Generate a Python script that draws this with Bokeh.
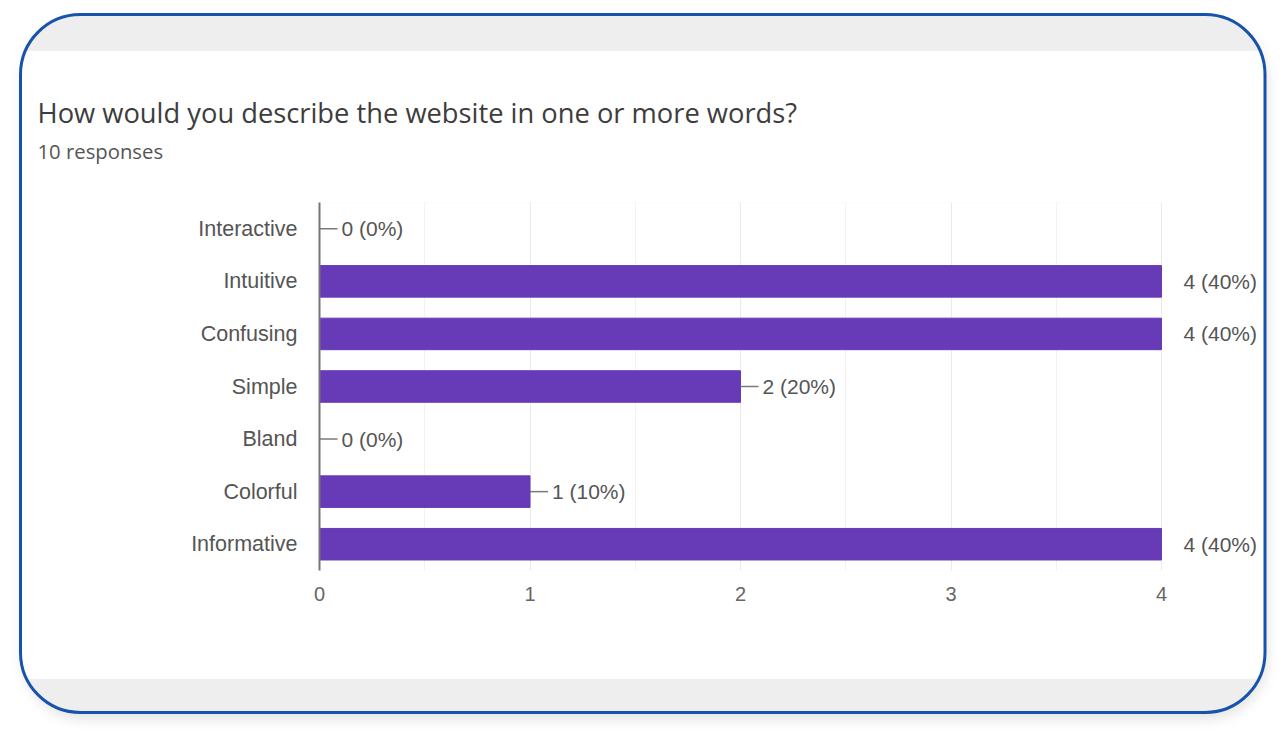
from urllib.parse import quote
from bokeh.plotting import figure
from bokeh.models import (ColumnDataSource, FactorRange, Range1d, FixedTicker,
                          BoxAnnotation, LabelSet, Title, CDSView, BooleanFilter)
from bokeh.core.properties import value
from bokeh.embed import file_html
from bokeh.resources import INLINE

title_text = "How would you describe the website in one or more words?"
subtitle_text = "10 responses"
total_responses = 10
categories = ["Interactive", "Intuitive", "Confusing", "Simple", "Bland", "Colorful", "Informative"]
counts = [0, 4, 4, 2, 0, 1, 4]
x_ticks = [0, 1, 2, 3, 4]
x_minor = [0.5, 1.5, 2.5, 3.5]

W, H = 1286, 740
FL, FR4, FR, FT, FB = 319, 1161, 1272, 202, 570
x_max = 4
px_per_unit = (FR4 - FL) / x_max

src = ColumnDataSource(dict(
    cat=categories,
    n=counts,
    end=[c + 18 / px_per_unit for c in counts],
    lab=[f"{c} ({round(100 * c / total_responses)}%)" for c in counts],
))
# connector lines are hidden where the bar reaches the chart edge
conn_view = CDSView(filter=BooleanFilter([c < x_max for c in counts]))

# card background (rounded frame, grey bands, soft shadow) as CSS background
svg = (
    "<svg xmlns='http://www.w3.org/2000/svg' width='1286' height='740'>"
    "<defs>"
    "<clipPath id='c'><rect x='20.5' y='14.5' width='1244.5' height='698' rx='60' ry='60'/></clipPath>"
    "<filter id='s' x='-10%' y='-10%' width='120%' height='130%'><feGaussianBlur stdDeviation='6'/></filter>"
    "</defs>"
    "<rect x='22' y='20' width='1246' height='700' rx='62' ry='62' fill='#000' fill-opacity='0.10' filter='url(#s)'/>"
    "<g clip-path='url(#c)'>"
    "<rect x='0' y='0' width='1286' height='740' fill='#eeeeee'/>"
    "<rect x='0' y='51' width='1286' height='628' fill='#ffffff'/>"
    "</g>"
    "<rect x='20.5' y='14.5' width='1244.5' height='698' rx='60' ry='60' fill='none' stroke='#1753ab' stroke-width='3'/>"
    "</svg>"
)
bg = "url(\"data:image/svg+xml," + quote(svg) + "\")"

p = figure(width=W, height=H, output_backend="svg", toolbar_location=None,
           y_range=FactorRange(factors=categories[::-1], range_padding=0),
           x_range=Range1d(0, x_max + (FR - FR4) / px_per_unit),
           min_border_left=FL, min_border_right=W - FR,
           min_border_top=FT, min_border_bottom=H - FB,
           styles={"background-image": bg, "background-repeat": "no-repeat",
                   "background-color": "#ffffff"})
p.border_fill_color = None
p.background_fill_color = None
p.outline_line_color = None

# chart area outline only over 0..4
p.add_layout(BoxAnnotation(left=0, right=x_max, fill_color=None, fill_alpha=0,
                           line_color="#ebebeb", line_width=1, level="underlay"))

p.hbar(y="cat", left=0, right="n", height=0.6, source=src, color="#673ab7")
p.segment(x0="n", y0="cat", x1="end", y1="cat", source=src, view=conn_view,
          line_color="#7a7a7a", line_width=1.5)
p.add_layout(LabelSet(x="n", y="cat", text="lab", x_offset=22, source=src,
                      text_baseline="middle", text_font_size="21px", text_color="#555555",
                      text_font=value("Liberation Sans")))

# spacer between the chart and the subtitle
p.add_layout(Title(text=" ", standoff=35, text_font_size="1px"), "above")
p.add_layout(Title(text=subtitle_text, align="left", offset=37 - FL, standoff=0,
                   text_font="Open Sans", text_font_size="20.3px", text_font_style="normal",
                   text_color="#555555"), "above")
p.add_layout(Title(text=title_text, align="left", offset=37 - FL, standoff=7,
                   text_font="Open Sans", text_font_size="27.3px", text_font_style="normal",
                   text_color="#3d3d3d"), "above")

p.xaxis.ticker = FixedTicker(ticks=x_ticks, minor_ticks=x_minor)
p.xaxis.axis_line_color = None
p.xaxis.major_tick_line_color = None
p.xaxis.minor_tick_line_color = None
p.xaxis.major_label_standoff = 10
p.xaxis.major_label_text_font = "Liberation Sans"
p.xaxis.major_label_text_font_size = "20px"
p.xaxis.major_label_text_color = "#666666"

p.yaxis.axis_line_color = "#777777"
p.yaxis.axis_line_width = 2
p.yaxis.major_tick_line_color = None
p.yaxis.minor_tick_line_color = None
p.yaxis.major_label_standoff = 16
p.yaxis.major_label_text_font = "Liberation Sans"
p.yaxis.major_label_text_font_size = "21.5px"
p.yaxis.major_label_text_color = "#555555"

p.ygrid.grid_line_color = None
p.xgrid.ticker = FixedTicker(ticks=x_ticks, minor_ticks=x_minor)
p.xgrid.grid_line_color = "#eaeaea"
p.xgrid.minor_grid_line_color = "#f2f2f2"

open("out.html", "w").write(file_html(p, INLINE))
